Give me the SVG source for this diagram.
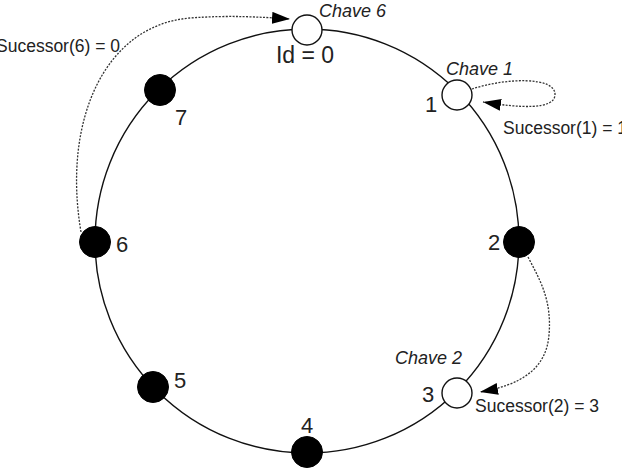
<svg xmlns="http://www.w3.org/2000/svg" width="622" height="468" viewBox="0 0 622 468">
<style>
.ring{fill:none;stroke:#111;stroke-width:1.4}
.open{fill:#fff;stroke:#111;stroke-width:1.4}
.full{fill:#000;stroke:#000;stroke-width:1}
.dot{fill:none;stroke:#333;stroke-width:1.3;stroke-dasharray:2 1.4}
.num{font-family:"Liberation Sans",Arial,sans-serif;font-size:22px;fill:#222;text-anchor:middle}
.key{font-family:"Liberation Sans",Arial,sans-serif;font-size:18px;font-style:italic;fill:#222}
.suc{font-family:"Liberation Sans",Arial,sans-serif;font-size:17.5px;fill:#222}
</style>
<defs>
<marker id="ah" markerUnits="userSpaceOnUse" markerWidth="20" markerHeight="14" refX="18" refY="6" orient="auto">
<path d="M0,0 L18,6 L0,12 Z" fill="#000"/>
</marker>
</defs>
<circle class="ring" cx="307" cy="241" r="212"/>
<g id="connectors">
<path class="dot" d="M81,232 C62,120 105,25 190,18 C230,15 260,17 290,19" marker-end="url(#ah)"/>
<path class="dot" d="M472,89 C505,78 556,76 555,95 C554,110 520,108 483,102" marker-end="url(#ah)"/>
<path class="dot" d="M528,257 C540,280 552,300 549,335 C546,370 520,385 480,392" marker-end="url(#ah)"/>
</g>
<g id="node0"><circle class="open" cx="307" cy="30" r="15"/><text class="num" x="305" y="63" style="font-size:23px">Id = 0</text><text class="key" x="319" y="17">Chave 6</text></g>
<g id="node1"><circle class="open" cx="457" cy="95" r="15"/><text class="num" x="431" y="112">1</text><text class="key" x="446" y="75">Chave 1</text></g>
<g id="node2"><circle class="full" cx="519" cy="242" r="15.5"/><text class="num" x="494" y="250">2</text></g>
<g id="node3"><circle class="open" cx="457" cy="393" r="15"/><text class="num" x="428" y="402">3</text><text class="key" x="395" y="364">Chave 2</text></g>
<g id="node4"><circle class="full" cx="307" cy="452" r="15.5"/><text class="num" x="307" y="433">4</text></g>
<g id="node5"><circle class="full" cx="153" cy="387" r="15.5"/><text class="num" x="180" y="388">5</text></g>
<g id="node6"><circle class="full" cx="95" cy="242" r="15.5"/><text class="num" x="122" y="252">6</text></g>
<g id="node7"><circle class="full" cx="160" cy="90" r="15.5"/><text class="num" x="181" y="125">7</text></g>
<text class="suc" x="-4" y="52">Sucessor(6) = 0</text>
<text class="suc" x="503" y="134">Sucessor(1) = 1</text>
<text class="suc" x="475" y="412">Sucessor(2) = 3</text>
</svg>
